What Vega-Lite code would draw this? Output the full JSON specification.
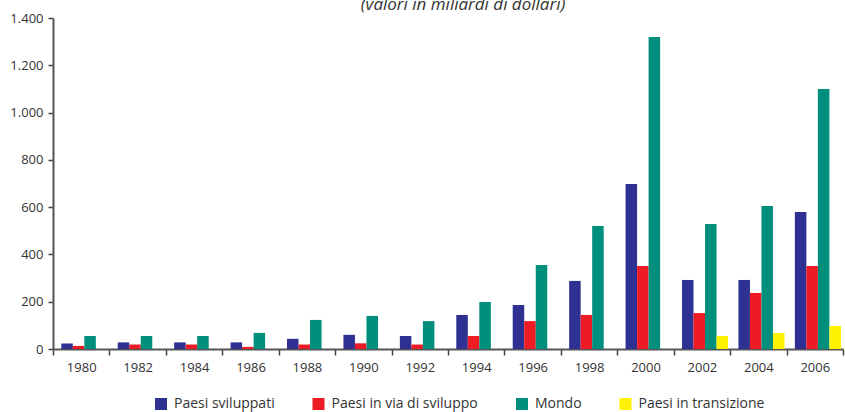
{
  "$schema": "https://vega.github.io/schema/vega-lite/v6.json",
  "width": 790,
  "height": 331,
  "autosize": {"type": "none"},
  "padding": {"top": 18, "left": 53, "right": 2, "bottom": 63},
  "background": "white",
  "title": {
    "text": "(valori in miliardi di dollari)",
    "font": "Open Sans",
    "fontStyle": "italic",
    "fontWeight": "normal",
    "fontSize": 17,
    "color": "#333333",
    "anchor": "middle",
    "baseline": "alphabetic",
    "dx": 15,
    "offset": -15
  },
  "data": {
    "values": [
      {"anno": "1980", "serie": "Paesi sviluppati", "valore": 23},
      {"anno": "1980", "serie": "Paesi in via di sviluppo", "valore": 13},
      {"anno": "1980", "serie": "Mondo", "valore": 55},
      {"anno": "1982", "serie": "Paesi sviluppati", "valore": 28},
      {"anno": "1982", "serie": "Paesi in via di sviluppo", "valore": 19},
      {"anno": "1982", "serie": "Mondo", "valore": 55},
      {"anno": "1984", "serie": "Paesi sviluppati", "valore": 28},
      {"anno": "1984", "serie": "Paesi in via di sviluppo", "valore": 19},
      {"anno": "1984", "serie": "Mondo", "valore": 55},
      {"anno": "1986", "serie": "Paesi sviluppati", "valore": 28},
      {"anno": "1986", "serie": "Paesi in via di sviluppo", "valore": 9},
      {"anno": "1986", "serie": "Mondo", "valore": 68},
      {"anno": "1988", "serie": "Paesi sviluppati", "valore": 43},
      {"anno": "1988", "serie": "Paesi in via di sviluppo", "valore": 19},
      {"anno": "1988", "serie": "Mondo", "valore": 123},
      {"anno": "1990", "serie": "Paesi sviluppati", "valore": 60},
      {"anno": "1990", "serie": "Paesi in via di sviluppo", "valore": 24},
      {"anno": "1990", "serie": "Mondo", "valore": 140},
      {"anno": "1992", "serie": "Paesi sviluppati", "valore": 55},
      {"anno": "1992", "serie": "Paesi in via di sviluppo", "valore": 19},
      {"anno": "1992", "serie": "Mondo", "valore": 118},
      {"anno": "1994", "serie": "Paesi sviluppati", "valore": 144},
      {"anno": "1994", "serie": "Paesi in via di sviluppo", "valore": 55},
      {"anno": "1994", "serie": "Mondo", "valore": 199},
      {"anno": "1996", "serie": "Paesi sviluppati", "valore": 186},
      {"anno": "1996", "serie": "Paesi in via di sviluppo", "valore": 118},
      {"anno": "1996", "serie": "Mondo", "valore": 355},
      {"anno": "1998", "serie": "Paesi sviluppati", "valore": 288},
      {"anno": "1998", "serie": "Paesi in via di sviluppo", "valore": 144},
      {"anno": "1998", "serie": "Mondo", "valore": 520},
      {"anno": "2000", "serie": "Paesi sviluppati", "valore": 698},
      {"anno": "2000", "serie": "Paesi in via di sviluppo", "valore": 351},
      {"anno": "2000", "serie": "Mondo", "valore": 1320},
      {"anno": "2002", "serie": "Paesi sviluppati", "valore": 292},
      {"anno": "2002", "serie": "Paesi in via di sviluppo", "valore": 152},
      {"anno": "2002", "serie": "Mondo", "valore": 529},
      {"anno": "2002", "serie": "Paesi in transizione", "valore": 55},
      {"anno": "2004", "serie": "Paesi sviluppati", "valore": 292},
      {"anno": "2004", "serie": "Paesi in via di sviluppo", "valore": 237},
      {"anno": "2004", "serie": "Mondo", "valore": 605},
      {"anno": "2004", "serie": "Paesi in transizione", "valore": 68},
      {"anno": "2006", "serie": "Paesi sviluppati", "valore": 579},
      {"anno": "2006", "serie": "Paesi in via di sviluppo", "valore": 351},
      {"anno": "2006", "serie": "Mondo", "valore": 1100},
      {"anno": "2006", "serie": "Paesi in transizione", "valore": 97}
    ]
  },
  "mark": {"type": "bar"},
  "encoding": {
    "x": {
      "field": "anno",
      "type": "ordinal",
      "scale": {"paddingInner": 0, "paddingOuter": 0},
      "axis": {
        "title": null,
        "labelAngle": 0,
        "tickBand": "extent",
        "labelFont": "Open Sans",
        "labelFontSize": 13,
        "labelColor": "#333333",
        "labelPadding": 6,
        "tickSize": 6,
        "tickColor": "#444444",
        "tickWidth": 1.5,
        "domainColor": "#555555",
        "domainWidth": 2
      }
    },
    "xOffset": {
      "field": "serie",
      "type": "nominal",
      "sort": ["Paesi sviluppati", "Paesi in via di sviluppo", "Mondo", "Paesi in transizione"],
      "scale": {"paddingInner": 0, "paddingOuter": 0.45, "align": 0.8}
    },
    "y": {
      "field": "valore",
      "type": "quantitative",
      "scale": {"domain": [0, 1400], "nice": false},
      "axis": {
        "title": null,
        "grid": false,
        "values": [0, 200, 400, 600, 800, 1000, 1200, 1400],
        "labelExpr": "replace(format(datum.value, ','), ',', '.')",
        "labelFont": "Open Sans",
        "labelFontSize": 13,
        "labelColor": "#333333",
        "labelPadding": 5,
        "tickSize": 5,
        "tickColor": "#444444",
        "tickWidth": 1.5,
        "domainColor": "#555555",
        "domainWidth": 2
      }
    },
    "color": {
      "field": "serie",
      "type": "nominal",
      "scale": {
        "domain": ["Paesi sviluppati", "Paesi in via di sviluppo", "Mondo", "Paesi in transizione"],
        "range": ["#2E3192", "#ED1C24", "#008F7C", "#FFF200"]
      },
      "legend": {
        "orient": "none",
        "legendX": 101,
        "legendY": 379,
        "direction": "horizontal",
        "title": null,
        "symbolType": "square",
        "symbolSize": 144,
        "symbolStrokeWidth": 0,
        "labelFont": "Open Sans",
        "labelFontSize": 14,
        "labelColor": "#333333",
        "labelOffset": 6,
        "columnPadding": 36.5,
        "padding": 0
      }
    }
  },
  "config": {"view": {"stroke": null}}
}
